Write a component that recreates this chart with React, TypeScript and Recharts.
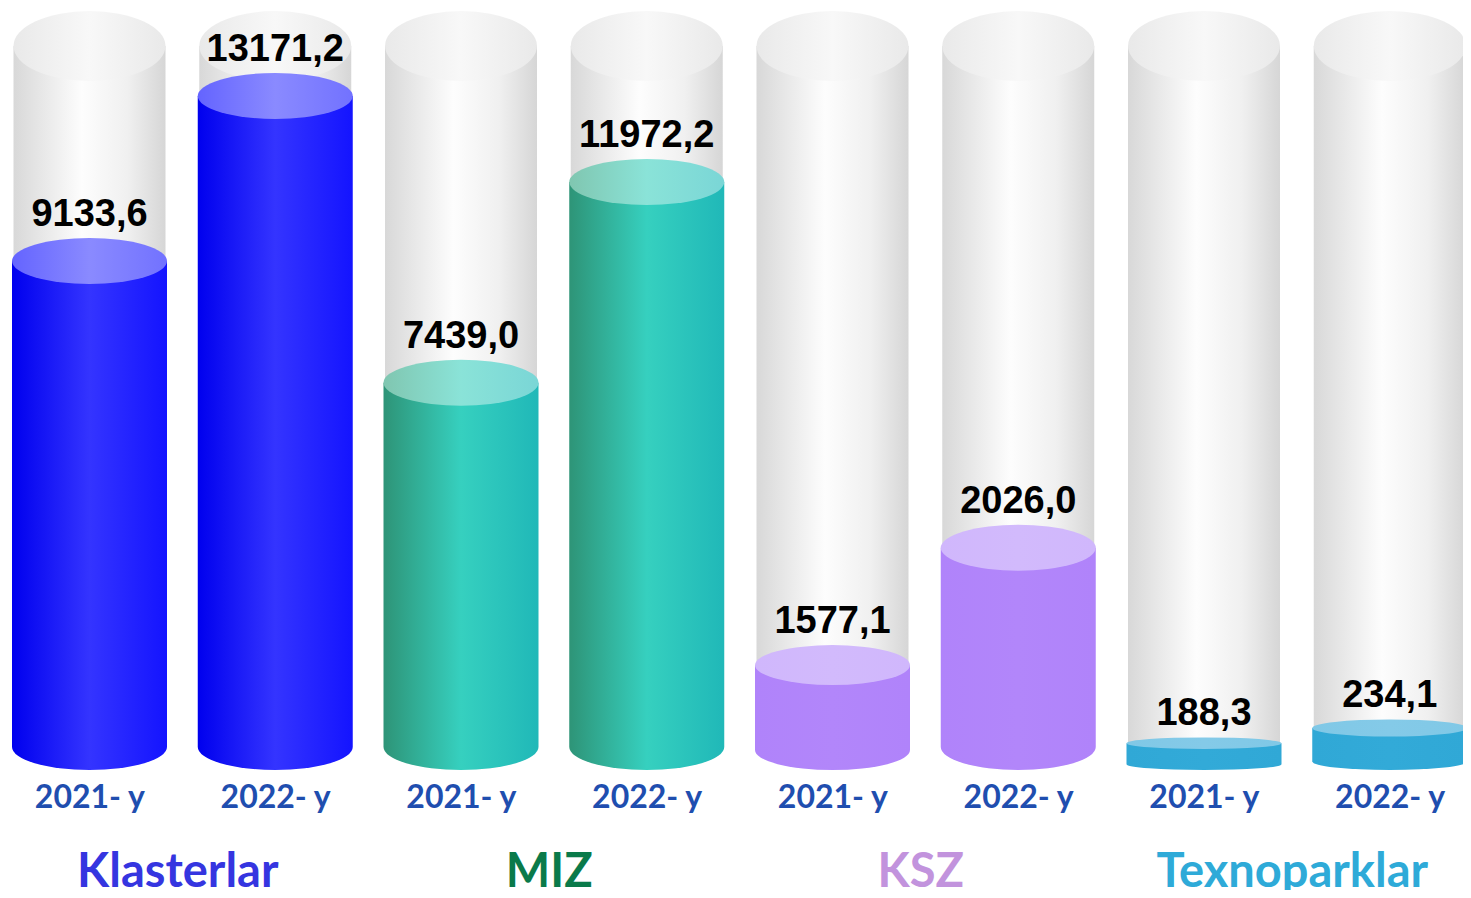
import React from 'react'
import { BarChart, Bar, XAxis, YAxis, LabelList } from 'recharts'

const years = ['2021- y', '2022- y', '2021- y', '2022- y', '2021- y', '2022- y', '2021- y', '2022- y']
const groups = ['Klasterlar', 'MIZ', 'KSZ', 'Texnoparklar']
const values = [9133.6, 13171.2, 7439.0, 11972.2, 1577.1, 2026.0, 188.3, 234.1]
// fill level of each glass cylinder, % of full height
const fillLevels = [70.3, 93.1, 53.5, 81.2, 14.5, 30.7, 3.7, 5.8]
const groupColors = ['#3535e0', '#0a7a4a', '#c293dd', '#2eaad8']

const data = years.map((year, i) => ({
  year,
  group: groups[Math.floor(i / 2)],
  value: values[i],
  level: fillLevels[i],
}))

const W = 1471
const H = 898
const MARGIN = { top: 46, right: -12, bottom: 0, left: -3 }
const BAND = (W - MARGIN.left - MARGIN.right) / years.length

const fmt = (v: number) => v.toFixed(1).replace('.', ',')
const capRy = (h: number) => Math.min(23, h * 0.18 + 1)

const GlassCylinder = (props: any) => {
  const { x, y, width, height } = props
  const bx = x + 1.5
  const bw = width - 3
  const rx = bw / 2
  const bottom = y + height - 23
  return (
    <g>
      <path
        d={`M${bx},${y} L${bx},${bottom} A${rx},23 0 0 0 ${bx + bw},${bottom} L${bx + bw},${y} Z`}
        fill="url(#glassSide)"
      />
      <ellipse cx={bx + rx} cy={y} rx={rx} ry={35} fill="url(#glassTop)" />
    </g>
  )
}

const FillCylinder = (props: any) => {
  const { x, y, width, height, index } = props
  const g = Math.floor(index / 2)
  const rx = width / 2
  const ry = capRy(height)
  const bottom = y + height - ry
  return (
    <g>
      <path
        d={`M${x},${y} L${x},${bottom} A${rx},${ry} 0 0 0 ${x + width},${bottom} L${x + width},${y} Z`}
        fill={`url(#side${g})`}
      />
      <ellipse cx={x + rx} cy={y} rx={rx} ry={ry} fill={`url(#top${g})`} />
    </g>
  )
}

const ValueLabel = (props: any) => {
  const { x, y, width, height, value } = props
  const ry = capRy(height)
  return (
    <text
      x={x + width / 2}
      y={y - ry - 12}
      textAnchor="middle"
      fontFamily="'Liberation Sans', Arial, sans-serif"
      fontWeight="bold"
      fontSize={38}
      fill="#000"
    >
      {fmt(value)}
    </text>
  )
}

const YearTick = (props: any) => {
  const { x, y, payload, index } = props
  const g = Math.floor(index / 2)
  return (
    <g>
      <text
        x={x}
        y={y + 38}
        textAnchor="middle"
        fontFamily="Lato, 'Open Sans', sans-serif"
        fontWeight="bold"
        fontSize={32}
        fill="#1f4eaf"
      >
        {payload.value}
      </text>
      {index % 2 === 0 && (
        <text
          x={x + BAND / 2 - 5}
          y={y + 117}
          textAnchor="middle"
          fontFamily="Lato, 'Open Sans', sans-serif"
          fontWeight="bold"
          fontSize={47}
          fill={groupColors[g]}
        >
          {groups[g]}
        </text>
      )}
    </g>
  )
}

const sideStops = [
  ['#0000ee', '#3434ff', '#1414ff'],
  ['#2e9477', '#36d0bf', '#20b8b8'],
  ['#b083fa', '#b286fa', '#b083fa'],
  ['#30a8d6', '#32aad8', '#30a8d6'],
]
const topStops = [
  ['#6464ff', '#8a8aff', '#7272ff'],
  ['#80c6b0', '#8ae3d8', '#7ad6d6'],
  ['#d0b7fc', '#d2bafc', '#d0b7fc'],
  ['#80c8e6', '#84cae8', '#80c8e6'],
]

export default function App() {
  return (
    <div style={{ margin: -8, width: W, height: H, overflow: 'hidden', background: '#fff' }}>
      <BarChart width={W} height={H} data={data} margin={MARGIN} barSize={155}>
        <defs>
          <linearGradient id="glassSide" x1="0" y1="0" x2="1" y2="0">
            <stop offset="0%" stopColor="#d8d8d8" />
            <stop offset="45%" stopColor="#fdfdfd" />
            <stop offset="75%" stopColor="#f0f0f0" />
            <stop offset="100%" stopColor="#d6d6d6" />
          </linearGradient>
          <linearGradient id="glassTop" x1="0" y1="0" x2="1" y2="0">
            <stop offset="0%" stopColor="#e9e9e9" />
            <stop offset="50%" stopColor="#f8f8f8" />
            <stop offset="100%" stopColor="#e9e9e9" />
          </linearGradient>
          {sideStops.map((s, i) => (
            <linearGradient key={`s${i}`} id={`side${i}`} x1="0" y1="0" x2="1" y2="0">
              <stop offset="0%" stopColor={s[0]} />
              <stop offset="50%" stopColor={s[1]} />
              <stop offset="100%" stopColor={s[2]} />
            </linearGradient>
          ))}
          {topStops.map((s, i) => (
            <linearGradient key={`t${i}`} id={`top${i}`} x1="0" y1="0" x2="1" y2="0">
              <stop offset="0%" stopColor={s[0]} />
              <stop offset="50%" stopColor={s[1]} />
              <stop offset="100%" stopColor={s[2]} />
            </linearGradient>
          ))}
        </defs>
        <XAxis
          dataKey="year"
          axisLine={false}
          tickLine={false}
          tickSize={0}
          tickMargin={0}
          height={128}
          interval={0}
          tick={<YearTick />}
        />
        <YAxis hide domain={[0, 100]} />
        <Bar
          dataKey="level"
          background={<GlassCylinder />}
          shape={<FillCylinder />}
          isAnimationActive={false}
        >
          <LabelList dataKey="value" content={<ValueLabel />} />
        </Bar>
      </BarChart>
    </div>
  )
}
